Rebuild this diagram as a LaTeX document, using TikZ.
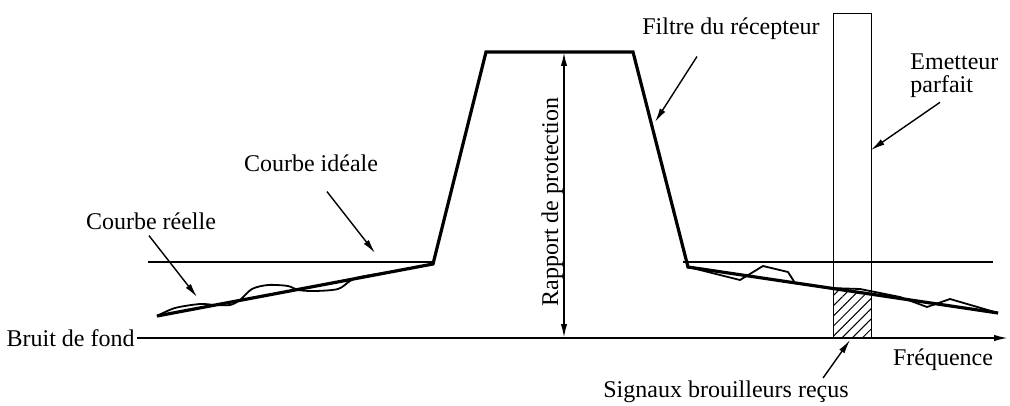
\documentclass[tikz,border=0pt]{standalone}
\usepackage{fontspec}
\setmainfont{Liberation Serif}
\usetikzlibrary{arrows.meta,patterns.meta}

\tikzset{
  filtercurve/.style={line width=1.6pt,line join=miter},
  realcurve/.style={line width=0.9pt,line join=round},
  levelline/.style={line width=0.9pt},
  pointer/.style={line width=0.7pt,-{Latex[length=7pt,width=3.2pt]}},
  lbl/.style={inner sep=1pt,font=\fontsize{12}{11.5}\selectfont},
}

\begin{document}
\begin{tikzpicture}[x=0.5pt,y=-0.5pt]
\path[use as bounding box] (0,0) rectangle (1010,406);

% frequency axis
\node[lbl,anchor=east] (bruit) at (137,338) {Bruit de fond};
\coordinate (freqtip) at (1008,338);
\draw[levelline,-{Latex[length=7pt,width=3.2pt]}] (bruit.east) -- (freqtip);
\node[lbl,anchor=base] (freq) at (943,365) {Fréquence};

% ideal level lines
\draw[levelline] (148,262) -- (433,262);
\draw[levelline] (683,262) -- (993,262);

% emitter and the hatched part
\fill[pattern={Lines[angle=45,distance=3.6pt,line width=0.5pt]}]
  (833,288.5) -- (871,294.2) -- (871,338) -- (833,338) -- cycle;
\draw[line width=0.5pt] (833,338) -- (833,14) -- (871,14) -- (871,338);

% real curves
\draw[realcurve] plot[smooth,tension=0.5] coordinates {(157,316) (175,308) (200,304)
  (215,305) (230,305) (240,300) (252,289) (268,285) (288,286) (298,290) (315,291)
  (338,289) (350,281) (360,277) (395,271) (433,264)};
\draw[realcurve] (688,267) -- (740,280) -- (763,266) -- (788,272) -- (795,283)
  -- (830,288) -- (860,289) -- (900,297) -- (927,307) -- (950,299) -- (998,313);

% receiver filter
\draw[filtercurve] (157,316) -- (433,264) -- (486,52) -- (633,52) -- (688,267) -- (998,313);

% protection ratio
\coordinate (top) at (564,52);
\coordinate (ground) at (564,338);
\draw[levelline,{Latex[length=7pt,width=3.2pt]}-{Latex[length=7pt,width=3.2pt]}] (top) -- (ground);
\node[lbl,rotate=90,anchor=base] (rapport) at (558,202) {Rapport de protection};

% labels
\node[lbl,anchor=base] (filtre) at (731,35) {Filtre du récepteur};
\coordinate (filtretip) at (655,122);
\draw[pointer] ([shift={(57,14)}]filtre.south west) -- (filtretip);

\node[lbl,anchor=west,align=left] (emetteur) at (908,76) {Emetteur\\parfait};
\coordinate (emetteurtip) at (871,150);
\draw[pointer] ([shift={(32,2)}]emetteur.south west) -- (emetteurtip);

\node[lbl,anchor=base] (ideale) at (311,172) {Courbe idéale};
\coordinate (idealetip) at (375,253);
\draw[pointer] ([shift={(16,17)}]ideale.south) -- (idealetip);

\node[lbl,anchor=base] (reelle) at (151,229) {Courbe réelle};
\coordinate (reelletip) at (197,297);
\draw[pointer] ([shift={(-2,4)}]reelle.south) -- (reelletip);

\node[lbl,anchor=base] (signaux) at (726,397) {Signaux brouilleurs reçus};
\coordinate (signauxtip) at (850,340);
\draw[pointer] ([shift={(-28,0)}]signaux.north east) -- (signauxtip);
\end{tikzpicture}
\end{document}
